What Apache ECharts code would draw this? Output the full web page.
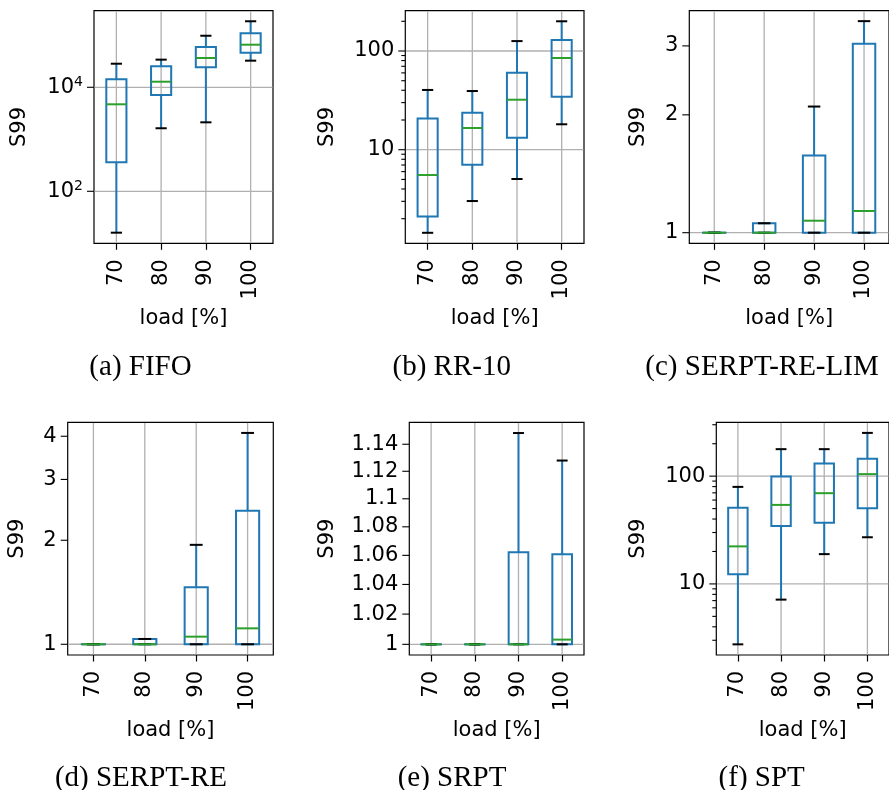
<!DOCTYPE html>
<html><head><meta charset="utf-8">
<script src="https://cdn.jsdelivr.net/npm/echarts@6/dist/echarts.min.js"></script>
<style>html,body{margin:0;padding:0;background:#fff}#c{width:889px;height:790px}</style>
</head><body><div id="c"></div><script>
// ---- data ----
const categories = ['70', '80', '90', '100'];
// per load level: [lower whisker, Q1, median, Q3, upper whisker]
const fifoStats = [[16, 361, 4710, 14250, 28400], [1630, 7100, 12800, 25400, 34000], [2120, 24300, 36600, 59600, 98000], [32500, 46300, 65900, 109000, 186000]];
const rr10Stats = [[1.44, 2.11, 5.54, 20.7, 40.3], [3.02, 7.05, 16.6, 23.7, 39.3], [5.05, 13.2, 32.1, 60.3, 126], [18.1, 34.4, 84.9, 129, 200]];
const serptReLimStats = [[1, 1, 1, 1, 1], [1, 1, 1, 1.057, 1.057], [1, 1, 1.073, 1.574, 2.10], [1, 1, 1.136, 3.04, 3.47]];
const serptReStats = [[1, 1, 1, 1, 1], [1, 1, 1, 1.036, 1.036], [1, 1, 1.052, 1.462, 1.94], [1, 1, 1.112, 2.436, 4.09]];
const srptStats = [[1, 1, 1, 1, 1], [1, 1, 1, 1, 1], [1, 1, 1, 1.0621, 1.1484], [1, 1, 1.0031, 1.0607, 1.1279]];
const sptStats = [[2.75, 12.3, 22.3, 50.8, 79.5], [7.15, 34.5, 54.1, 99, 178], [18.9, 37, 69.5, 131, 178], [27.1, 50.5, 104.4, 145, 252]];

// y tick values and labels
const fifoMajorTicks = [100, 10000];
const fifoMajorLabels = ['10^2', '10^4'];
const rr10MajorTicks = [10, 100];
const rr10MajorLabels = ['10', '100'];
const rr10MinorTicks = [2, 3, 4, 5, 6, 7, 8, 9, 20, 30, 40, 50, 60, 70, 80, 90, 200];
const serptReLimMajorTicks = [1];
const serptReLimMajorLabels = ['1'];
const serptReLimLabeledTicks = [2, 3];
const serptReLimLabeledText = ['2', '3'];
const serptReMajorTicks = [1];
const serptReMajorLabels = ['1'];
const serptReLabeledTicks = [2, 3, 4];
const serptReLabeledText = ['2', '3', '4'];
const srptMajorTicks = [1];
const srptMajorLabels = ['1'];
const srptLabeledTicks = [1.02, 1.04, 1.06, 1.08, 1.1, 1.12, 1.14];
const srptLabeledText = ['1.02', '1.04', '1.06', '1.08', '1.1', '1.12', '1.14'];
const sptMajorTicks = [10, 100];
const sptMajorLabels = ['10', '100'];
const sptMinorTicks = [3, 4, 5, 6, 7, 8, 9, 20, 30, 40, 50, 60, 70, 80, 90, 200, 300];

const captions = ['(a) FIFO', '(b) RR-10', '(c) SERPT-RE-LIM', '(d) SERPT-RE', '(e) SRPT', '(f) SPT'];
const xName = 'load [%]';
const yName = 'S99';

// ---- layout / styling ----
const FONT = 'DejaVu Sans';
const FS = 21;
const BLUE = '#1f77b4', GREEN = '#2ca02c', GRIDC = '#b0b0b0';

const panels = [
  { stats: fifoStats, major: fifoMajorTicks, majorText: fifoMajorLabels, labeled: [], labeledText: [], minor: [],
    min: 10, max: 297000, grid: { left: 94, top: 10.7, width: 179, height: 232.6 }, nameGap: 64, cap: [140.5, 367.5] },
  { stats: rr10Stats, major: rr10MajorTicks, majorText: rr10MajorLabels, labeled: [], labeledText: [], minor: rr10MinorTicks,
    min: 1.127, max: 256, grid: { left: 405.3, top: 10.7, width: 178.7, height: 232.6 }, nameGap: 67, cap: [451.7, 367.5] },
  { stats: serptReLimStats, major: serptReLimMajorTicks, majorText: serptReLimMajorLabels, labeled: serptReLimLabeledTicks, labeledText: serptReLimLabeledText, minor: [],
    min: 0.9395, max: 3.69, grid: { left: 689.3, top: 10.7, width: 205.6, height: 232.6 }, nameGap: 40, cap: [762, 367.5] },
  { stats: serptReStats, major: serptReMajorTicks, majorText: serptReMajorLabels, labeled: serptReLabeledTicks, labeledText: serptReLabeledText, minor: [],
    min: 0.931, max: 4.39, grid: { left: 67.7, top: 422.3, width: 205.6, height: 232.7 }, nameGap: 40, cap: [141, 778] },
  { stats: srptStats, major: srptMajorTicks, majorText: srptMajorLabels, labeled: srptLabeledTicks, labeledText: srptLabeledText, minor: [],
    min: 0.99304, max: 1.1565, grid: { left: 409.3, top: 422.3, width: 174.7, height: 232.7 }, nameGap: 71, cap: [452, 778] },
  { stats: sptStats, major: sptMajorTicks, majorText: sptMajorLabels, labeled: [], labeledText: [], minor: sptMinorTicks,
    min: 2.19, max: 316, grid: { left: 716.3, top: 422.3, width: 178.7, height: 232.7 }, nameGap: 67, cap: [761.7, 778] }
];

function richLabel(t) {
  if (t.indexOf('^') >= 0) {
    const p = t.split('^');
    return '{b|' + p[0] + '}{s|' + p[1] + '}';
  }
  return '{b|' + t + '}';
}
const RICH = {
  b: { fontSize: FS, fontFamily: FONT, lineHeight: 23, fill: '#000', color: '#000' },
  s: { fontSize: 14, fontFamily: FONT, lineHeight: 14, verticalAlign: 'top', fill: '#000', color: '#000' }
};

const option = { animation: false, backgroundColor: '#fff', grid: [], xAxis: [], yAxis: [], series: [], graphic: [] };

panels.forEach((p, k) => {
  option.grid.push(Object.assign({ show: true, borderColor: '#000', borderWidth: 1.2, backgroundColor: 'transparent' }, p.grid));
  option.xAxis.push({
    gridIndex: k, type: 'category', data: categories, boundaryGap: true,
    axisLine: { show: false },
    axisTick: { show: true, alignWithLabel: true, length: 6.5, lineStyle: { color: '#000', width: 1.2 } },
    axisLabel: { rotate: 90, margin: 16, interval: 0, color: '#000', fontSize: FS, fontFamily: FONT },
    splitLine: { show: false },
    name: xName, nameLocation: 'middle', nameGap: 65,
    nameTextStyle: { color: '#000', fontSize: FS, fontFamily: FONT }
  });
  option.yAxis.push({
    gridIndex: k, type: 'log', logBase: 10, min: p.min, max: p.max,
    axisLine: { show: false }, axisTick: { show: false }, axisLabel: { show: false }, splitLine: { show: false },
    name: yName, nameLocation: 'middle', nameGap: p.nameGap, nameRotate: 90,
    nameTextStyle: { color: '#000', fontSize: FS, fontFamily: FONT }
  });

  // vertical grid lines at categories
  option.series.push({
    type: 'custom', xAxisIndex: k, yAxisIndex: k, z: 1, silent: true,
    data: p.stats.map((s, i) => [i, s[2]]),
    renderItem: function (params, api) {
      const cs = params.coordSys;
      const x = api.coord([api.value(0), api.value(1)])[0];
      return { type: 'line', shape: { x1: x, y1: cs.y + 0.6, x2: x, y2: cs.y + cs.height - 0.6 },
               style: { stroke: GRIDC, lineWidth: 1.3 } };
    }
  });

  // y ticks: kind 0 = major (grid + tick + label), 1 = labeled minor, 2 = minor
  const tickData = [];
  const tickText = [];
  p.major.forEach((v, i) => { tickData.push([0, v, 0]); tickText.push(p.majorText[i]); });
  p.labeled.forEach((v, i) => { tickData.push([0, v, 1]); tickText.push(p.labeledText[i]); });
  p.minor.forEach(v => { tickData.push([0, v, 2]); tickText.push(''); });
  option.series.push({
    type: 'custom', xAxisIndex: k, yAxisIndex: k, z: 2, silent: true, clip: false,
    data: tickData,
    renderItem: function (params, api) {
      const cs = params.coordSys;
      const y = api.coord([0, api.value(1)])[1];
      const kind = api.value(2);
      const children = [];
      if (kind === 0) {
        children.push({ type: 'line', shape: { x1: cs.x + 0.6, y1: y, x2: cs.x + cs.width - 0.6, y2: y },
                        style: { stroke: GRIDC, lineWidth: 1.3 } });
      }
      const len = kind === 2 ? 4 : 7;
      children.push({ type: 'line', shape: { x1: cs.x - len, y1: y, x2: cs.x, y2: y },
                      style: { stroke: '#000', lineWidth: 1.1 } });
      const t = tickText[params.dataIndex];
      if (t) {
        children.push({ type: 'text', style: {
          text: richLabel(t), rich: RICH, x: cs.x - len - 4, y: y,
          align: 'right', textAlign: 'right', verticalAlign: 'middle', textVerticalAlign: 'middle',
          fill: '#000', fontSize: FS, fontFamily: FONT } });
      }
      return { type: 'group', children: children };
    }
  });

  // boxes
  option.series.push({
    type: 'custom', xAxisIndex: k, yAxisIndex: k, z: 5, silent: true, clip: false,
    encode: { x: 0, y: [1, 2, 3, 4, 5] },
    data: p.stats.map((s, i) => [i].concat(s)),
    renderItem: function (params, api) {
      const cs = params.coordSys;
      const band = cs.width / categories.length;
      const i = api.value(0);
      const x = api.coord([i, api.value(3)])[0];
      const yLo = api.coord([i, api.value(1)])[1];
      const yQ1 = api.coord([i, api.value(2)])[1];
      const yMed = api.coord([i, api.value(3)])[1];
      const yQ3 = api.coord([i, api.value(4)])[1];
      const yHi = api.coord([i, api.value(5)])[1];
      const bw = band * 0.45, cw = band * 0.25;
      const lw = 2;
      return { type: 'group', children: [
        { type: 'rect', shape: { x: x - bw / 2, y: yQ3, width: bw, height: Math.max(yQ1 - yQ3, 0.01) },
          style: { fill: 'none', stroke: BLUE, lineWidth: lw } },
        { type: 'line', shape: { x1: x, y1: yQ3, x2: x, y2: yHi }, style: { stroke: BLUE, lineWidth: lw } },
        { type: 'line', shape: { x1: x, y1: yQ1, x2: x, y2: yLo }, style: { stroke: BLUE, lineWidth: lw } },
        { type: 'line', shape: { x1: x - cw / 2, y1: yHi, x2: x + cw / 2, y2: yHi }, style: { stroke: '#000', lineWidth: lw } },
        { type: 'line', shape: { x1: x - cw / 2, y1: yLo, x2: x + cw / 2, y2: yLo }, style: { stroke: '#000', lineWidth: lw } },
        { type: 'line', shape: { x1: x - bw / 2, y1: yMed, x2: x + bw / 2, y2: yMed }, style: { stroke: GREEN, lineWidth: lw } }
      ] };
    }
  });

  option.graphic.push({
    type: 'text', x: p.cap[0], y: p.cap[1], silent: true,
    style: { text: captions[k], align: 'center', verticalAlign: 'middle', textAlign: 'center', textVerticalAlign: 'middle',
             fill: '#000', fontSize: 29, fontFamily: 'Liberation Serif' }
  });
});

const chart = echarts.init(document.getElementById('c'), null, { renderer: 'canvas' });
chart.setOption(option);
</script></body></html>
